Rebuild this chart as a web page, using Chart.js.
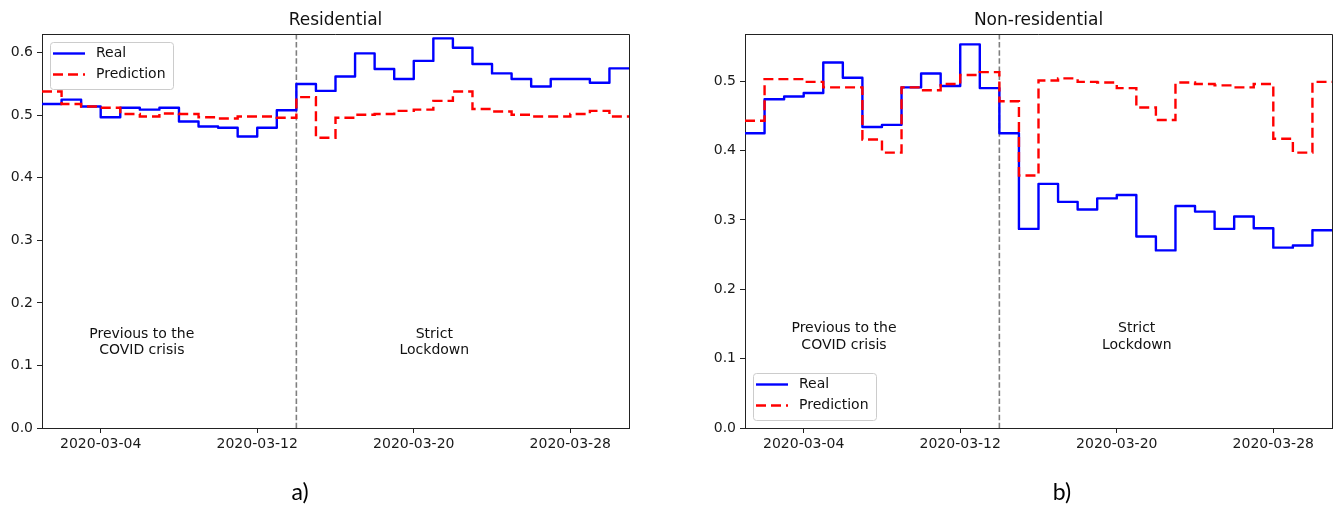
<!DOCTYPE html>
<html>
<head>
<meta charset="utf-8">
<script src="https://cdn.jsdelivr.net/npm/chart.js@4.4.1/dist/chart.umd.min.js"></script>
<style>
  html, body { margin: 0; padding: 0; background: #fff; }
  #wrap { position: relative; width: 1336px; height: 509px; }
  .panel { position: absolute; top: 0; width: 668px; height: 509px; }
</style>
</head>
<body>
<div id="wrap">
  <div class="panel" style="left:0"><canvas id="res" width="668" height="509"></canvas></div>
  <div class="panel" style="left:668px"><canvas id="nonres" width="668" height="509"></canvas></div>
</div>
<script>
// Daily values, one per day starting on each date
const days = [
  '2020-03-01','2020-03-02','2020-03-03','2020-03-04','2020-03-05','2020-03-06',
  '2020-03-07','2020-03-08','2020-03-09','2020-03-10','2020-03-11','2020-03-12',
  '2020-03-13','2020-03-14','2020-03-15','2020-03-16','2020-03-17','2020-03-18',
  '2020-03-19','2020-03-20','2020-03-21','2020-03-22','2020-03-23','2020-03-24',
  '2020-03-25','2020-03-26','2020-03-27','2020-03-28','2020-03-29','2020-03-30'
];

const resReal = [0.518,0.525,0.514,0.497,0.512,0.509,0.512,0.490,0.482,0.480,0.466,0.480,0.508,0.550,0.539,
                 0.562,0.599,0.574,0.558,0.587,0.623,0.608,0.582,0.567,0.558,0.546,0.558,0.558,0.552,0.575];
const resPred = [0.538,0.518,0.514,0.512,0.502,0.498,0.503,0.502,0.497,0.495,0.498,0.498,0.496,0.529,0.464,
                 0.496,0.501,0.502,0.507,0.509,0.523,0.538,0.510,0.506,0.501,0.498,0.498,0.502,0.507,0.498];

const nonResReal = [0.425,0.474,0.478,0.483,0.527,0.505,0.434,0.437,0.491,0.511,0.493,0.553,0.490,0.425,0.287,
                    0.352,0.326,0.315,0.331,0.336,0.276,0.256,0.320,0.312,0.287,0.305,0.288,0.260,0.263,0.285];
const nonResPred = [0.443,0.503,0.503,0.499,0.491,0.491,0.416,0.397,0.491,0.487,0.496,0.509,0.513,0.471,0.364,
                    0.501,0.504,0.499,0.498,0.490,0.462,0.444,0.498,0.496,0.494,0.491,0.496,0.417,0.397,0.499];

const dateTicks = ['2020-03-04','2020-03-12','2020-03-20','2020-03-28'];
const resYTicks = [0.0,0.1,0.2,0.3,0.4,0.5,0.6];
const nonResYTicks = [0.0,0.1,0.2,0.3,0.4,0.5];
const lockdownDate = '2020-03-14';
const seriesNames = ['Real','Prediction'];
const periodLabels = [['Previous to the','COVID crisis'],['Strict','Lockdown']];

const DAY = 864e5;
const dayIndex = d => (Date.parse(d) - Date.parse(days[0])) / DAY;

// step series: each value holds for one day, closed at the end of the last day
function stepPoints(values) {
  const pts = values.map((v, i) => ({ x: dayIndex(days[i]), y: v }));
  pts.push({ x: dayIndex(days[days.length - 1]) + 1, y: values[values.length - 1] });
  return pts;
}

Chart.defaults.font.family = "'DejaVu Sans', sans-serif";
Chart.defaults.font.size = 14;
Chart.defaults.color = '#1a1a1a';

const INK = '#222';
const PRED_DASH = [10, 5];

// frame, lockdown marker, period notes, legend, title and caption
const panelDecor = {
  id: 'panelDecor',
  beforeDatasetsDraw(chart, args, o) {
    const { ctx, chartArea: a, scales: { x } } = chart;
    const lx = x.getPixelForValue(dayIndex(lockdownDate));
    ctx.save();
    ctx.strokeStyle = '#7f7f7f';
    ctx.lineWidth = 1.6;
    ctx.setLineDash([5.5, 2.6]);
    ctx.beginPath();
    ctx.moveTo(lx, a.top);
    ctx.lineTo(lx, a.bottom);
    ctx.stroke();
    ctx.restore();
  },
  afterDraw(chart, args, o) {
    const { ctx, chartArea: a, scales: { x, y } } = chart;
    ctx.save();
    // top and right spines
    ctx.strokeStyle = INK;
    ctx.lineWidth = 1;
    ctx.beginPath();
    ctx.moveTo(a.left, a.top + 0.5);
    ctx.lineTo(a.right + 0.5, a.top + 0.5);
    ctx.lineTo(a.right + 0.5, a.bottom);
    ctx.stroke();

    // title
    ctx.fillStyle = '#111';
    ctx.font = "17px 'DejaVu Sans'";
    ctx.textAlign = 'center';
    ctx.textBaseline = 'alphabetic';
    ctx.fillText(o.title, (a.left + a.right) / 2, 25);

    // period notes
    ctx.font = "14px 'DejaVu Sans'";
    ctx.textBaseline = 'middle';
    o.notes.forEach(n => {
      const px = x.getPixelForValue(n.x);
      const py = y.getPixelForValue(n.y);
      n.lines.forEach((t, i) => ctx.fillText(t, px, py + i * o.noteGap));
    });

    // legend
    const bw = 123, bh = 47;
    const bx = a.left + 8;
    const by = o.legendAt === 'top' ? a.top + 8 : a.bottom - 8 - bh;
    ctx.fillStyle = 'rgba(255,255,255,0.85)';
    ctx.strokeStyle = '#cccccc';
    ctx.lineWidth = 1;
    ctx.beginPath();
    ctx.roundRect(bx + 0.5, by + 0.5, bw, bh, 3);
    ctx.fill();
    ctx.stroke();
    chart.data.datasets.forEach((ds, i) => {
      const ly = by + 11.5 + i * 21;
      ctx.strokeStyle = ds.borderColor;
      ctx.lineWidth = ds.borderWidth;
      ctx.setLineDash(ds.borderDash || []);
      ctx.beginPath();
      ctx.moveTo(bx + 3, ly);
      ctx.lineTo(bx + 35, ly);
      ctx.stroke();
      ctx.setLineDash([]);
      ctx.fillStyle = '#111';
      ctx.textAlign = 'left';
      ctx.textBaseline = 'middle';
      ctx.fillText(ds.label, bx + 46, ly);
    });

    // panel caption
    ctx.fillStyle = '#000';
    ctx.font = "23px Lato, 'Open Sans', sans-serif";
    ctx.textAlign = 'center';
    ctx.textBaseline = 'alphabetic';
    ctx.fillText(o.caption, o.captionX, 500);
    ctx.restore();
  }
};

function makePanel(id, cfg) {
  const W = 668, H = 509, XH = 40;
  return new Chart(document.getElementById(id), {
    type: 'line',
    data: {
      datasets: [
        // 'before' in Chart.js holds each value until the next point (horizontal first)
        { label: seriesNames[0], data: stepPoints(cfg.real), borderColor: '#0000ff', borderWidth: 2.4,
          stepped: 'before', pointRadius: 0, fill: false, order: 2, borderJoinStyle: 'round' },
        { label: seriesNames[1], data: stepPoints(cfg.pred), borderColor: '#ff0000', borderWidth: 2.4,
          borderDash: PRED_DASH, stepped: 'before', pointRadius: 0, fill: false, order: 1 }
      ]
    },
    options: {
      responsive: false,
      animation: false,
      devicePixelRatio: 1,
      events: [],
      layout: { padding: { left: 0, top: cfg.area.top, right: W - cfg.area.right, bottom: H - cfg.area.bottom - XH } },
      plugins: {
        legend: { display: false },
        tooltip: { enabled: false },
        title: { display: false },
        panelDecor: {
          title: cfg.title, caption: cfg.caption, captionX: cfg.captionX,
          legendAt: cfg.legendAt, notes: cfg.notes, noteGap: 16.5
        }
      },
      scales: {
        x: {
          type: 'linear',
          min: 0,
          max: days.length,
          afterFit: s => { s.height = XH; },
          afterBuildTicks: s => { s.ticks = dateTicks.map(d => ({ value: dayIndex(d) })); },
          ticks: {
            autoSkip: false, maxRotation: 0, padding: 3,
            callback: v => dateTicks.find(d => dayIndex(d) === v) || ''
          },
          grid: { display: true, drawOnChartArea: false, drawTicks: true, tickLength: 5, color: INK },
          border: { display: true, color: INK, width: 1 }
        },
        y: {
          type: 'linear',
          min: 0,
          max: cfg.yMax,
          afterFit: s => { s.width = cfg.area.left; },
          afterBuildTicks: s => { s.ticks = cfg.yTicks.map(v => ({ value: v })); },
          ticks: { padding: 4, callback: v => v.toFixed(1) },
          grid: { display: true, drawOnChartArea: false, drawTicks: true, tickLength: 5, color: INK },
          border: { display: true, color: INK, width: 1 }
        }
      }
    },
    plugins: [panelDecor]
  });
}

makePanel('res', {
  title: 'Residential', caption: 'a)', captionX: 300,
  real: resReal, pred: resPred, yMax: 0.63, yTicks: resYTicks,
  area: { left: 42, top: 34, right: 629, bottom: 428 },
  legendAt: 'top',
  notes: [
    { x: 5.1, y: 0.150, lines: periodLabels[0] },
    { x: 20.05, y: 0.150, lines: periodLabels[1] }
  ]
});

makePanel('nonres', {
  title: 'Non-residential', caption: 'b)', captionX: 394,
  real: nonResReal, pred: nonResPred, yMax: 0.568, yTicks: nonResYTicks,
  area: { left: 77, top: 34, right: 664, bottom: 428 },
  legendAt: 'bottom',
  notes: [
    { x: 5.06, y: 0.143, lines: periodLabels[0] },
    { x: 20.02, y: 0.143, lines: periodLabels[1] }
  ]
});
</script>
</body>
</html>
